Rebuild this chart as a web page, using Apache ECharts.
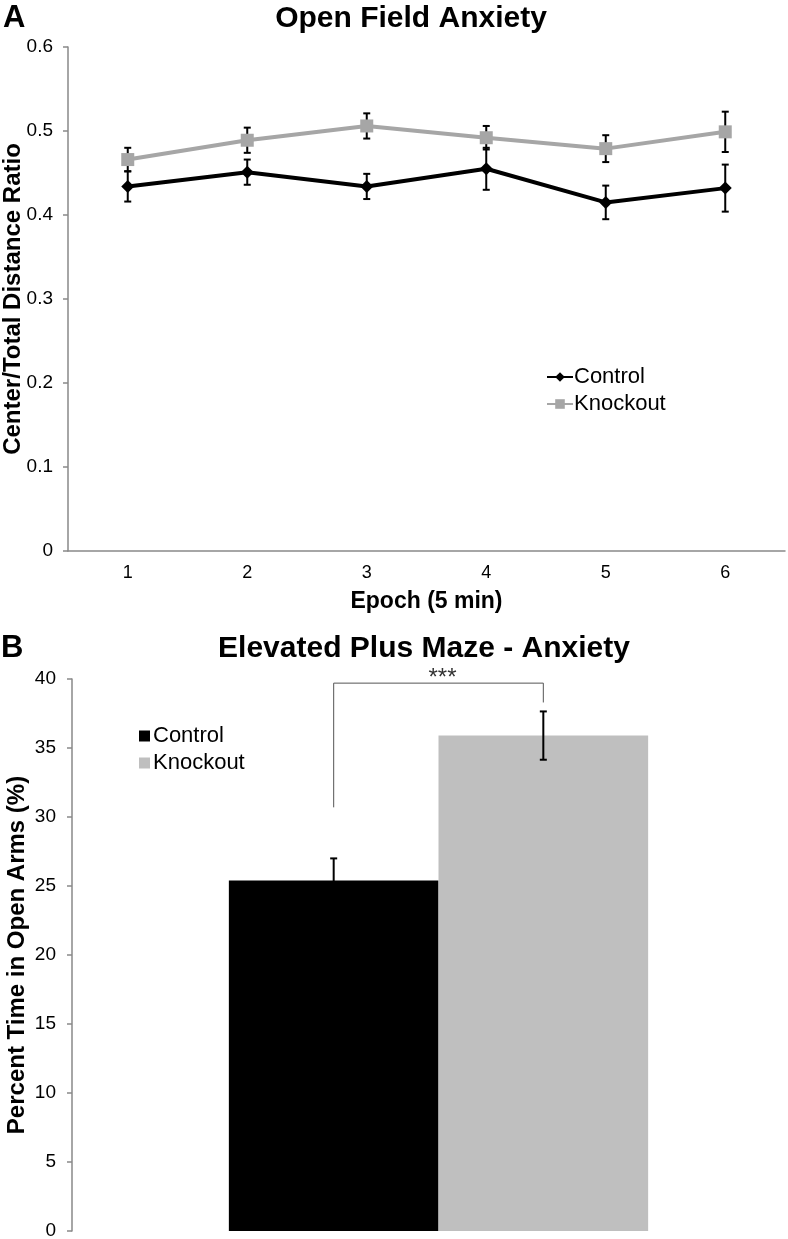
<!DOCTYPE html>
<html>
<head>
<meta charset="utf-8">
<script src="https://cdn.jsdelivr.net/npm/echarts@6/dist/echarts.min.js"></script>
<style>
html,body{margin:0;padding:0;background:#fff;}
#chart{width:788px;height:1239px;}
</style>
</head>
<body>
<div id="chart"></div>
<script>
// ---- Panel A data ----
const epochs = ['1', '2', '3', '4', '5', '6'];
const controlMean = [0.434, 0.451, 0.434, 0.455, 0.415, 0.432];
const controlErr = [0.018, 0.015, 0.015, 0.025, 0.020, 0.028];
const knockoutMean = [0.466, 0.489, 0.506, 0.492, 0.479, 0.499];
const knockoutErr = [0.014, 0.015, 0.015, 0.014, 0.016, 0.024];
const yTicksA = { min: 0, max: 0.6, interval: 0.1 };

// ---- Panel B data ----
const groupsB = ['Control', 'Knockout'];
const meanB = [25.4, 35.9];
const errB = [1.6, 1.75];
const yTicksB = { min: 0, max: 40, interval: 5 };
const bracketB = { leftBottom: 30.7, top: 39.7, rightBottom: 38.3, label: '***' };

const FONT = '"Liberation Sans", Arial, sans-serif';
const AXIS_GRAY = '#898989';
const KO_GRAY = '#A6A6A6';
const BAR_GRAY = '#BFBFBF';

function errData(means, errs) {
  return means.map((m, i) => [i, m - errs[i], m + errs[i]]);
}

function errRender(offsetFrac) {
  return function (params, api) {
    const band = api.size([1, 0])[0];
    const off = offsetFrac ? offsetFrac[params.dataIndex] * band : 0;
    const lo = api.coord([api.value(0), api.value(1)]);
    const hi = api.coord([api.value(0), api.value(2)]);
    const x = lo[0] + off;
    const cap = 3.5;
    const st = { stroke: '#000', lineWidth: 2 };
    return {
      type: 'group',
      children: [
        { type: 'line', shape: { x1: x, y1: lo[1], x2: x, y2: hi[1] }, style: st },
        { type: 'line', shape: { x1: x - cap, y1: lo[1], x2: x + cap, y2: lo[1] }, style: st },
        { type: 'line', shape: { x1: x - cap, y1: hi[1], x2: x + cap, y2: hi[1] }, style: st }
      ]
    };
  };
}

const BAR_FRAC = 0.286; // bar width as share of category band
const barOffsets = [-BAR_FRAC / 2, BAR_FRAC / 2];

const chart = echarts.init(document.getElementById('chart'), null, { renderer: 'canvas' });

const option = {
  animation: false,
  textStyle: { fontFamily: FONT },
  graphic: [
    { type: 'text', left: 3, top: 3, style: { text: 'A', font: 'bold 31px ' + FONT, fill: '#000' } },
    { type: 'text', x: 411, y: 4, style: { text: 'Open Field Anxiety', font: 'bold 30px ' + FONT, fill: '#000', textAlign: 'center' } },
    { type: 'text', left: 1, top: 633, style: { text: 'B', font: 'bold 31px ' + FONT, fill: '#000' } },
    { type: 'text', x: 424, y: 634, style: { text: 'Elevated Plus Maze - Anxiety', font: 'bold 30px ' + FONT, fill: '#000', textAlign: 'center' } }
  ],
  legend: [
    {
      left: 541, top: 361, orient: 'vertical', itemGap: 5,
      itemWidth: 26, itemHeight: 12,
      textStyle: { fontSize: 22, color: '#000', fontFamily: FONT, padding: [0, 0, 0, -4] },
      data: [{ name: 'Control' }, { name: 'Knockout' }]
    },
    {
      left: 134, top: 720, orient: 'vertical', itemGap: 5,
      itemWidth: 11, itemHeight: 11,
      textStyle: { fontSize: 22, color: '#000', fontFamily: FONT, padding: [0, 0, 0, -2] },
      data: [
        { name: 'Control', icon: 'rect', itemStyle: { color: '#000' } },
        { name: 'Knockout', icon: 'rect', itemStyle: { color: BAR_GRAY } }
      ]
    }
  ],
  grid: [
    { left: 68, top: 47, width: 717, height: 504, outerBoundsMode: 'none', containLabel: false },
    { left: 72, top: 679, width: 733, height: 552, outerBoundsMode: 'none', containLabel: false }
  ],
  xAxis: [
    {
      gridIndex: 0, type: 'category', data: epochs, boundaryGap: true,
      axisLine: { lineStyle: { color: AXIS_GRAY, width: 1.5 } },
      axisTick: { show: false },
      axisLabel: { fontSize: 18, color: '#000', margin: 13 },
      name: 'Epoch (5 min)', nameLocation: 'middle', nameGap: 39, nameMoveOverlap: false,
      nameTextStyle: { fontSize: 23, fontWeight: 'bold', color: '#000' }
    },
    {
      gridIndex: 1, type: 'category', data: [''],
      axisLine: { show: false }, axisTick: { show: false }, axisLabel: { show: false }
    }
  ],
  yAxis: [
    {
      gridIndex: 0, type: 'value', min: yTicksA.min, max: yTicksA.max, interval: yTicksA.interval,
      splitLine: { show: false },
      axisLine: { show: true, lineStyle: { color: AXIS_GRAY, width: 1.5 } },
      axisTick: { show: true, length: 5, lineStyle: { color: AXIS_GRAY, width: 1.5 } },
      axisLabel: { fontSize: 19, color: '#000', margin: 15 },
      name: 'Center/Total Distance Ratio', nameLocation: 'middle', nameGap: 43, nameMoveOverlap: false,
      nameTextStyle: { fontSize: 24, fontWeight: 'bold', color: '#000' }
    },
    {
      gridIndex: 1, type: 'value', min: yTicksB.min, max: yTicksB.max, interval: yTicksB.interval,
      splitLine: { show: false },
      axisLine: { show: true, lineStyle: { color: AXIS_GRAY, width: 1.5 } },
      axisTick: { show: true, length: 5, lineStyle: { color: AXIS_GRAY, width: 1.5 } },
      axisLabel: { fontSize: 19, color: '#000', margin: 16 },
      name: 'Percent Time in Open Arms (%)', nameLocation: 'middle', nameGap: 43, nameMoveOverlap: false,
      nameTextStyle: { fontSize: 24, fontWeight: 'bold', color: '#000' }
    }
  ],
  series: [
    {
      name: 'Control', type: 'line', xAxisIndex: 0, yAxisIndex: 0, data: controlMean,
      symbol: 'diamond', symbolSize: 13, z: 3,
      lineStyle: { color: '#000', width: 4 }, itemStyle: { color: '#000' }
    },
    {
      name: 'Knockout', type: 'line', xAxisIndex: 0, yAxisIndex: 0, data: knockoutMean,
      symbol: 'rect', symbolSize: 13, z: 3,
      lineStyle: { color: KO_GRAY, width: 4 }, itemStyle: { color: KO_GRAY }
    },
    {
      type: 'custom', xAxisIndex: 0, yAxisIndex: 0, z: 2,
      data: errData(controlMean, controlErr), renderItem: errRender(null), silent: true
    },
    {
      type: 'custom', xAxisIndex: 0, yAxisIndex: 0, z: 2,
      data: errData(knockoutMean, knockoutErr), renderItem: errRender(null), silent: true
    },
    {
      name: 'Control', type: 'bar', xAxisIndex: 1, yAxisIndex: 1,
      data: [meanB[0]], barWidth: (BAR_FRAC * 100) + '%', barGap: '0%',
      itemStyle: { color: '#000' }
    },
    {
      name: 'Knockout', type: 'bar', xAxisIndex: 1, yAxisIndex: 1,
      data: [meanB[1]], barWidth: (BAR_FRAC * 100) + '%', barGap: '0%',
      itemStyle: { color: BAR_GRAY }
    },
    {
      type: 'custom', xAxisIndex: 1, yAxisIndex: 1, z: 5, silent: true,
      data: groupsB.map((g, i) => [0, meanB[i] - errB[i], meanB[i] + errB[i]]),
      renderItem: errRender(barOffsets)
    },
    {
      type: 'custom', xAxisIndex: 1, yAxisIndex: 1, z: 5, silent: true,
      data: [[0, bracketB.leftBottom, bracketB.top, bracketB.rightBottom]],
      renderItem: function (params, api) {
        const band = api.size([1, 0])[0];
        const c = api.coord([0, 0])[0];
        const xl = c + barOffsets[0] * band;
        const xr = c + barOffsets[1] * band;
        const yl = api.coord([0, api.value(1)])[1];
        const yt = api.coord([0, api.value(2)])[1];
        const yr = api.coord([0, api.value(3)])[1];
        return {
          type: 'group',
          children: [
            { type: 'polyline', shape: { points: [[xl, yl], [xl, yt], [xr, yt], [xr, yr]] },
              style: { stroke: '#555', lineWidth: 1, fill: null } },
            { type: 'text', x: (xl + xr) / 2 + 4, y: yt - 17,
              style: { text: bracketB.label, font: '24px ' + FONT, fill: '#333', textAlign: 'center', textVerticalAlign: 'top' } }
          ]
        };
      }
    }
  ]
};
chart.setOption(option);
</script>
</body>
</html>
